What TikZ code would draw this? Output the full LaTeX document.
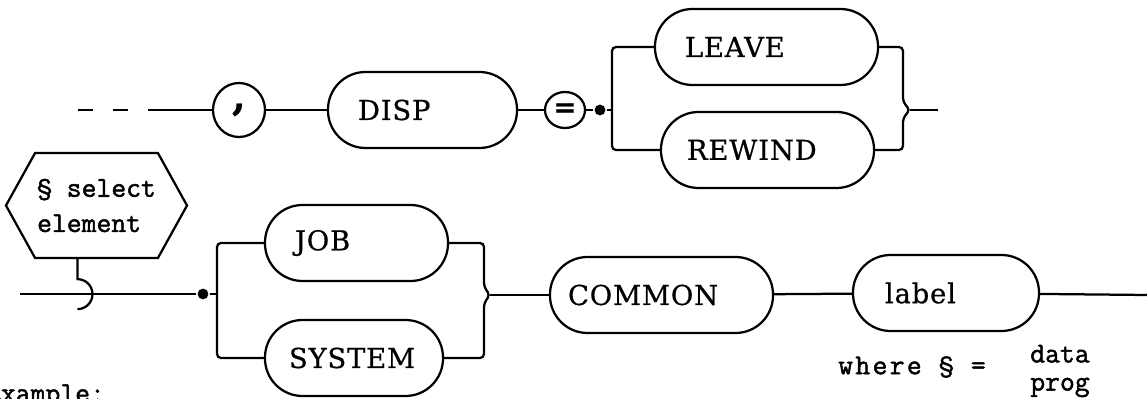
\documentclass[tikz,border=0pt]{standalone}
\usepackage{fontspec}
\setmainfont{DejaVu Serif}[FakeBold=0.6]
\setmonofont{Latin Modern Mono}[FakeBold=1.6]
\usetikzlibrary{shapes.geometric,shapes.symbols,calc}

\newcommand{\pillfont}{\fontsize{19.5}{22}\selectfont\addfontfeature{LetterSpace=3}}
\newcommand{\typefont}{\ttfamily\fontsize{20.5}{25}\selectfont}

\begin{document}
\begin{tikzpicture}[x=0.025cm, y=-0.025cm, line width=1.6pt,
    pill/.style={draw, rectangle, rounded corners=0.94cm, minimum height=1.9cm,
      inner xsep=0.75cm, align=left, font=\pillfont},
    ring/.style={draw, ellipse, inner sep=0pt, font=\pillfont\bfseries},
    dot/.style={circle, fill=black, inner sep=0pt, minimum size=0.27cm},
    hexa/.style={draw, signal, signal to=west and east, signal pointer angle=122,
      minimum width=4.525cm, minimum height=2.625cm, inner sep=0pt,
      align=left, font=\typefont},
    typetext/.style={font=\typefont, inner sep=0pt}]
  \useasboundingbox (0,0) rectangle (1147,399);

  % Top row: , DISP = then LEAVE / REWIND
  \node [ring, minimum width=1.3cm, minimum height=1.35cm] (comma) at (239,110) {\fontsize{28}{28}\selectfont ,};
  \node [pill, text width=3.225cm] (disp) at (422.5,110) {DISP};
  \node [ring, minimum width=1.0cm, minimum height=0.9cm] (eq) at (565,110) {=};
  \node [dot] (dot1) at (600,110) {};
  \node [pill, text width=4.075cm] (leave) at (766.5,47) {LEAVE};
  \node [pill, text width=4.025cm, inner xsep=0.65cm] (rewind) at (767.5,150) {REWIND};

  % Bottom row: select element, JOB / SYSTEM, COMMON, label
  \node [hexa] (sel) at (96.5,205.5) {§ select\\element};
  \node [dot] (dot2) at (203,294) {};
  \node [pill, text width=3.075cm] (job) at (356.5,243) {JOB};
  \node [pill, text width=3.25cm, inner xsep=0.6cm] (system) at (354,358) {SYSTEM};
  \node [pill, text width=4.675cm, inner xsep=0.45cm] (common) at (661.5,295) {COMMON};
  \node [pill, text width=3.05cm, inner xsep=0.8cm] (label) at (946,293) {label};

  % Notes
  \node [typetext] (where) at (912,367) {\addfontfeature{LetterSpace=8}where § =};
  \node [typetext, align=left, font=\typefont\fontsize{20.5}{20}\selectfont] (data) at (1060,371) {data\\prog};
  \node [typetext, anchor=base west] (ex) at (-15,402) {Example:};

  % Top row connectors
  \coordinate (dstart) at (78,110);
  \draw [dash pattern=on 0.375cm off 0.5cm on 0.375cm off 0.5cm on 3cm off 0.1cm] (dstart) -- (comma);
  \draw (comma) -- (disp);
  \draw (disp) -- (eq);
  \draw (eq) -- (dot1);
  \coordinate (fork1) at (612,110);
  \draw (dot1) -- (fork1);
  \draw [rounded corners=0.1cm] (leave.west) -| (fork1) |- (rewind.west);
  \coordinate (join1) at (910,110);
  \coordinate (end1) at (938,110);
  \draw [rounded corners=0.1cm] (leave.east) -| ($(join1)+(-7,-8)$) -- (join1)
    -- ($(join1)+(-7,8)$) |- (rewind.east);
  \draw (join1) -- (end1);

  % Bottom row connectors
  \draw ([xshift=-0.475cm]sel.south) -- ++(0,20) arc [start angle=90, end angle=-90, radius=0.375cm];
  \coordinate (start2) at (20,294);
  \draw (start2) -- (dot2);
  \coordinate (fork2) at (217,294);
  \draw (dot2) -- (fork2);
  \draw [rounded corners=0.1cm] (job.west) -| (fork2) |- (system.west);
  \coordinate (join2) at (490,295);
  \draw [rounded corners=0.1cm] (job.east) -| ($(join2)+(-6,-8)$) -- (join2)
    -- ($(join2)+(-6,8)$) |- (system.east);
  \draw (join2) -- (common);
  \draw (common) -- (label);
  \coordinate (end2) at (1147,295);
  \draw (label) -- (end2);
\end{tikzpicture}
\end{document}
